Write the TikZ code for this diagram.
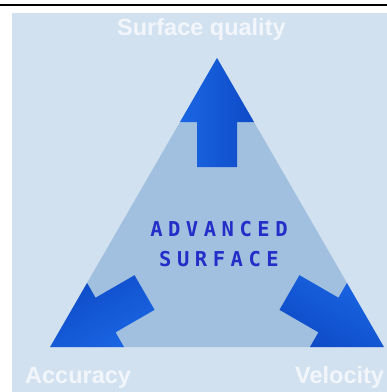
\documentclass[tikz,border=0pt]{standalone}
\usepackage{fontspec}
\setmainfont{Liberation Sans}
\newfontfamily\techfont[LetterSpace=27]{DejaVu Sans Mono Bold}
\usetikzlibrary{positioning}

\definecolor{panelblue}{RGB}{209,225,240}
\definecolor{triblue}{RGB}{161,192,223}
\definecolor{arrowlight}{RGB}{52,132,248}
\definecolor{arrowmid}{RGB}{26,102,228}
\definecolor{arrowdark}{RGB}{14,74,198}
\definecolor{textblue}{RGB}{35,45,200}
\definecolor{labelwhite}{RGB}{242,246,251}

\begin{document}
\begin{tikzpicture}[x=1pt,y=-1pt,
    axislabel/.style={text=labelwhite,inner sep=0pt,anchor=base west,
        font=\bfseries\fontsize{23.5}{23.5}\selectfont},
    title/.style={text=textblue,inner sep=0pt,anchor=base,
        font=\techfont\fontsize{20.5}{20.5}\selectfont}]
\useasboundingbox (0,0) rectangle (387,392);
	% panel and top rule
	\fill[panelblue] (12,13) rectangle (387,392);
	\draw[line width=2.5pt] (0,5) -- (387,5);
	% triangle
	\coordinate (apex) at (217,58);
	\coordinate (left) at (50,347);
	\coordinate (right) at (384,347);
	\fill[triblue] (apex) -- (left) -- (right) -- cycle;
	% the three arrows
	\foreach \r in {0,120,240}
	    \shade[rotate around={\r:(217,250.67)},left color=arrowmid,middle color=arrowlight,
	        right color=arrowdark,shading angle=90+\r]
	        (217,58) -- (254,122) -- (237,122) -- (237,167) -- (197,167)
	        -- (197,122) -- (180,122) -- cycle;
	% texts
	\node[title] (adv) at (219,236.5) {ADVANCED};
	\node[title] (surf) at (219,266.5) {SURFACE};
	\node[axislabel] (quality) at (117,35) {Surface quality};
	\node[axislabel] (accuracy) at (25,383) {Accuracy};
	\node[axislabel] (velocity) at (295,383) {Velocity};
\end{tikzpicture}
\end{document}
